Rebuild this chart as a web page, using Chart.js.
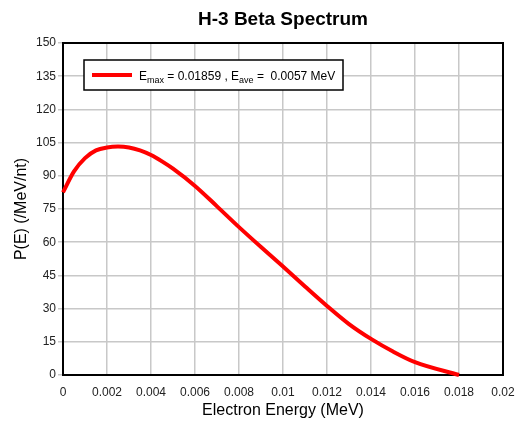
<!DOCTYPE html>
<html>
<head>
<meta charset="utf-8">
<script src="https://cdn.jsdelivr.net/npm/chart.js@4/dist/chart.umd.min.js"></script>
<style>
  html, body { margin: 0; padding: 0; background: #fff; }
</style>
</head>
<body>
<canvas id="myChart" width="517" height="421"></canvas>
<script>
// H-3 beta spectrum
const energy = [0, 0.0005, 0.001, 0.0015, 0.002, 0.0025, 0.003, 0.0035, 0.004, 0.0045, 0.005,
                0.006, 0.007, 0.008, 0.009, 0.010, 0.011, 0.012, 0.013, 0.014, 0.015, 0.016, 0.018];
const prob   = [82.5, 92, 98, 101.5, 102.8, 103.2, 102.8, 101.5, 99.4, 96.5, 93.2,
                85.4, 76.2, 66.8, 57.8, 49, 40, 31.2, 23, 16.3, 10.6, 5.8, 0];
const eMax = '0.01859';
const eAve = '0.0057';

const FONT = "Arial, 'Liberation Sans', sans-serif";
const ctx = document.getElementById('myChart').getContext('2d');

// black frame round the plot area
const frame = {
  id: 'frame',
  beforeDatasetsDraw(chart) {
    const { ctx, chartArea: a } = chart;
    ctx.save();
    ctx.strokeStyle = '#000';
    ctx.lineWidth = 2;
    ctx.strokeRect(a.left, a.top, a.right - a.left, a.bottom - a.top);
    ctx.restore();
  }
};

// legend box with subscripts (Chart.js legend can't do those)
const legendBox = {
  id: 'legendBox',
  afterDatasetsDraw(chart) {
    const { ctx, chartArea: a } = chart;
    const x = a.left + 21, y = a.top + 17, w = 259, h = 30;
    ctx.save();
    ctx.fillStyle = '#fff';
    ctx.fillRect(x, y, w, h);
    ctx.strokeStyle = '#000';
    ctx.lineWidth = 1.5;
    ctx.strokeRect(x, y, w, h);

    ctx.strokeStyle = '#ff0000';
    ctx.lineWidth = 4;
    ctx.beginPath();
    ctx.moveTo(x + 8, y + h / 2);
    ctx.lineTo(x + 48, y + h / 2);
    ctx.stroke();

    const parts = [
      ['E', false], ['max', true], [' = ' + eMax + ' , E', false], ['ave', true], [' =  ' + eAve + ' MeV', false]
    ];
    let tx = x + 55;
    const base = y + h / 2 + 4.5;
    ctx.fillStyle = '#000';
    ctx.textBaseline = 'alphabetic';
    parts.forEach(([t, sub]) => {
      ctx.font = (sub ? '9px ' : '12px ') + FONT;
      ctx.fillText(t, tx, sub ? base + 3 : base);
      tx += ctx.measureText(t).width;
    });
    ctx.restore();
  }
};

const myChart = new Chart(ctx, {
  type: 'line',
  data: {
    datasets: [{
      data: energy.map((e, i) => ({ x: e, y: prob[i] })),
      borderColor: '#ff0000',
      borderWidth: 4,
      pointRadius: 0,
      cubicInterpolationMode: 'monotone',
      clip: false
    }]
  },
  options: {
    responsive: false,
    animation: false,
    devicePixelRatio: 1,
    layout: { padding: 0 },
    plugins: {
      legend: { display: false },
      tooltip: { enabled: false },
      title: {
        display: true,
        text: 'H-3 Beta Spectrum',
        fullSize: false,
        color: '#000',
        font: { family: FONT, size: 19, weight: 'bold' },
        padding: { top: 8, bottom: 12.2 }
      }
    },
    scales: {
      x: {
        type: 'linear',
        min: 0, max: 0.02,
        grid: { color: '#c8c8c8', lineWidth: 1.5, drawTicks: false },
        border: { display: false },
        ticks: {
          stepSize: 0.002, padding: 10, color: '#222',
          font: { family: FONT, size: 12 },
          maxRotation: 0,
          callback: v => String(+v.toFixed(4))
        },
        title: {
          display: true, text: 'Electron Energy (MeV)', color: '#000',
          font: { family: FONT, size: 16 }, padding: { top: 0, bottom: 1 }
        },
        afterFit: s => { s.height = 46; s.paddingRight = 14; s.paddingLeft = 0; }
      },
      y: {
        min: 0, max: 150,
        grid: { color: '#c8c8c8', lineWidth: 1.5, tickLength: 5 },
        border: { display: false },
        ticks: {
          stepSize: 15, padding: 2, color: '#222',
          font: { family: FONT, size: 12 }
        },
        title: {
          display: true, text: 'P(E) (/MeV/nt)', color: '#000',
          font: { family: FONT, size: 16 }, padding: { top: 12, bottom: 0 }
        },
        afterFit: s => { s.width = 63; }
      }
    }
  },
  plugins: [frame, legendBox]
});
</script>
</body>
</html>
